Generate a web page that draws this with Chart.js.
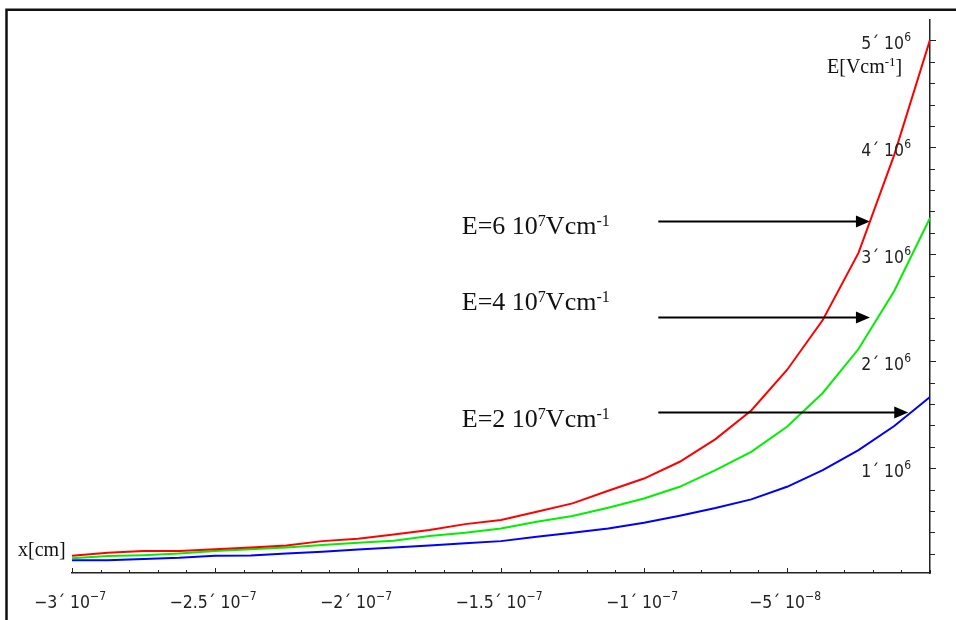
<!DOCTYPE html>
<html>
<head>
<meta charset="utf-8">
<script src="https://cdn.jsdelivr.net/npm/chart.js@4.4.1/dist/chart.umd.min.js"></script>
<style>
  html, body { margin: 0; padding: 0; background: #fff; }
  canvas { display: block; }
</style>
</head>
<body>
<canvas id="c" width="956" height="620"></canvas>
<script>
// Position x [cm]
const xValues = [
  -3.0e-7, -2.875e-7, -2.75e-7, -2.625e-7, -2.5e-7, -2.375e-7, -2.25e-7, -2.125e-7,
  -2.0e-7, -1.875e-7, -1.75e-7, -1.625e-7, -1.5e-7, -1.375e-7, -1.25e-7, -1.125e-7,
  -1.0e-7, -8.75e-8, -7.5e-8, -6.25e-8, -5.0e-8, -3.75e-8, -2.5e-8, -1.25e-8, 0
];
// Field E [V/cm] for the three applied fields
const fieldE6 = [
  1.81e5, 2.09e5, 2.25e5, 2.25e5, 2.43e5, 2.59e5, 2.78e5, 3.18e5, 3.41e5, 3.81e5,
  4.21e5, 4.77e5, 5.15e5, 5.92e5, 6.71e5, 7.89e5, 9.03e5, 1.060e6, 1.272e6, 1.539e6,
  1.918e6, 2.385e6, 3.012e6, 3.929e6, 5.005e6
];
const fieldE4 = [
  1.59e5, 1.78e5, 1.87e5, 2.03e5, 2.25e5, 2.43e5, 2.59e5, 2.81e5, 3.02e5, 3.21e5,
  3.65e5, 3.96e5, 4.37e5, 4.99e5, 5.52e5, 6.30e5, 7.17e5, 8.26e5, 9.82e5, 1.153e6,
  1.387e6, 1.703e6, 2.114e6, 2.657e6, 3.340e6
];
const fieldE2 = [
  1.40e5, 1.40e5, 1.52e5, 1.62e5, 1.81e5, 1.84e5, 2.03e5, 2.18e5, 2.39e5, 2.59e5,
  2.78e5, 2.97e5, 3.18e5, 3.58e5, 3.96e5, 4.37e5, 4.89e5, 5.55e5, 6.27e5, 7.08e5,
  8.26e5, 9.82e5, 1.169e6, 1.394e6, 1.665e6
];
const appliedFields = ['6', '4', '2'];

// Labelled ticks: mantissa text and power-of-ten exponent
const xMajorTicks = [-3e-7, -2.5e-7, -2e-7, -1.5e-7, -1e-7, -5e-8];
const xTickLabels = ['−3´ 10', '−2.5´ 10', '−2´ 10', '−1.5´ 10', '−1´ 10', '−5´ 10'];
const xTickExponents = ['−7', '−7', '−7', '−7', '−7', '−8'];
const yMajorTicks = [1e6, 2e6, 3e6, 4e6, 5e6];
const yTickLabels = ['1´ 10', '2´ 10', '3´ 10', '4´ 10', '5´ 10'];
const yTickExponents = ['6', '6', '6', '6', '6'];

const X_MINOR = 1e-8, Y_MINOR = 2e5;
const INK = '#222';
const SANS = '"DejaVu Sans Condensed", "Liberation Sans Narrow", "DejaVu Sans", sans-serif';
const SERIF = '"Liberation Serif", "Times New Roman", serif';

function majorIndex(list, v, tol) {
  return list.findIndex(m => Math.abs(m - v) < tol);
}
function series(values) {
  return xValues.map((x, i) => ({ x, y: values[i] }));
}

// Arrow annotations (data coordinates)
const arrowLayout = [
  { textX: -1.637e-7, textY: 3.187e6, fromX: -9.5e-8, toX: -2.1e-8,  y: 3.311e6 },
  { textX: -1.637e-7, textY: 2.477e6, fromX: -9.5e-8, toX: -2.1e-8,  y: 2.414e6 },
  { textX: -1.637e-7, textY: 1.383e6, fromX: -9.5e-8, toX: -0.76e-8, y: 1.523e6 }
];

// Rich text: list of [text, size, raise]
function richWidth(ctx, pieces, family) {
  let w = 0;
  for (const [t, size] of pieces) {
    ctx.font = size + 'px ' + family;
    w += ctx.measureText(t).width;
  }
  return w;
}
function drawRich(ctx, pieces, x, y, family) {
  let cx = x;
  ctx.textAlign = 'left';
  for (const [t, size, raise] of pieces) {
    ctx.font = size + 'px ' + family;
    ctx.fillText(t, cx, y - raise);
    cx += ctx.measureText(t).width;
  }
}

const framePlugin = {
  id: 'frame',
  beforeDraw(chart) {
    const ctx = chart.ctx;
    ctx.save();
    ctx.strokeStyle = '#111';
    ctx.lineWidth = 2.5;
    ctx.beginPath();
    ctx.moveTo(6.5, 640);
    ctx.lineTo(6.5, 9.8);
    ctx.lineTo(980, 9.8);
    ctx.stroke();
    ctx.restore();
  }
};

const axisDecorPlugin = {
  id: 'axisDecor',
  afterDraw(chart) {
    const { ctx, chartArea, scales: { x, y } } = chart;
    ctx.save();
    ctx.strokeStyle = INK;
    ctx.lineWidth = 1;
    ctx.beginPath();
    for (const t of x.ticks) {
      const px = Math.round(x.getPixelForValue(t.value)) + 0.5;
      const len = majorIndex(xMajorTicks, t.value, 1e-10) >= 0 ? 5 : 3;
      ctx.moveTo(px, chartArea.bottom);
      ctx.lineTo(px, chartArea.bottom - len);
    }
    for (const t of y.ticks) {
      const py = Math.round(y.getPixelForValue(t.value)) + 0.5;
      const len = majorIndex(yMajorTicks, t.value, 1) >= 0 ? 6 : 5;
      ctx.moveTo(chartArea.right, py);
      ctx.lineTo(chartArea.right + len, py);
    }
    ctx.stroke();

    // Tick labels with raised exponents
    ctx.fillStyle = INK;
    ctx.textBaseline = 'alphabetic';
    xMajorTicks.forEach((v, i) => {
      const pieces = [[xTickLabels[i], 17.5, 0], [xTickExponents[i], 12, 8]];
      const w = richWidth(ctx, pieces, SANS);
      drawRich(ctx, pieces, x.getPixelForValue(v) - w / 2 - 2, chartArea.bottom + 35, SANS);
    });
    yMajorTicks.forEach((v, i) => {
      const pieces = [[yTickLabels[i], 17.5, 0], [yTickExponents[i], 12, 8]];
      const w = richWidth(ctx, pieces, SANS);
      drawRich(ctx, pieces, chartArea.right - 19 - w, y.getPixelForValue(v) + 9, SANS);
    });

    // Axis titles
    ctx.fillStyle = '#111';
    drawRich(ctx, [['x[cm]', 20, 0]], chartArea.left - 54, chartArea.bottom - 17, SERIF);
    drawRich(ctx, [['E[Vcm', 20, 0], ['-1', 13, 7], [']', 20, 0]],
      chartArea.right - 103, chartArea.top + 53, SERIF);

    // Arrows with their field labels
    arrowLayout.forEach((a, i) => {
      ctx.fillStyle = '#111';
      drawRich(ctx, [['E=' + appliedFields[i] + ' 10', 26, 0], ['7', 16, 8], ['Vcm', 26, 0], ['-1', 16, 8]],
        x.getPixelForValue(a.textX), y.getPixelForValue(a.textY), SERIF);
      const x0 = x.getPixelForValue(a.fromX);
      const x1 = x.getPixelForValue(a.toX);
      const ay = Math.round(y.getPixelForValue(a.y)) + 0.5;
      ctx.strokeStyle = '#000';
      ctx.lineWidth = 2;
      ctx.beginPath();
      ctx.moveTo(x0, ay);
      ctx.lineTo(x1 - 10, ay);
      ctx.stroke();
      ctx.fillStyle = '#000';
      ctx.beginPath();
      ctx.moveTo(x1, ay);
      ctx.lineTo(x1 - 14, ay - 6);
      ctx.lineTo(x1 - 14, ay + 6);
      ctx.closePath();
      ctx.fill();
    });
    ctx.restore();
  }
};

new Chart(document.getElementById('c'), {
  type: 'line',
  data: {
    datasets: [
      { label: 'E=6 10⁷Vcm⁻¹', data: series(fieldE6), borderColor: '#ff0000' },
      { label: 'E=4 10⁷Vcm⁻¹', data: series(fieldE4), borderColor: '#00f000' },
      { label: 'E=2 10⁷Vcm⁻¹', data: series(fieldE2), borderColor: '#0000ff' }
    ]
  },
  options: {
    responsive: false,
    animation: false,
    layout: { padding: { left: 72, top: 20, right: 0, bottom: 0 } },
    elements: {
      line: { borderWidth: 2, tension: 0, fill: false },
      point: { radius: 0, hoverRadius: 0 }
    },
    plugins: { legend: { display: false }, tooltip: { enabled: false } },
    scales: {
      x: {
        type: 'linear',
        min: -3e-7,
        max: 0,
        afterBuildTicks(scale) {
          const ticks = [];
          for (let i = -30; i <= 0; i++) ticks.push({ value: i * X_MINOR });
          scale.ticks = ticks;
        },
        afterFit(scale) {
          scale.height = 47;
          scale.paddingLeft = 0; scale.paddingRight = 0;
        },
        grid: { display: false, drawTicks: false, tickLength: 0 },
        border: { display: true, color: INK, width: 1.5 },
        ticks: { autoSkip: false, maxRotation: 0, callback: () => '' }
      },
      y: {
        type: 'linear',
        position: 'right',
        min: 2e4,
        max: 5.19e6,
        afterBuildTicks(scale) {
          const ticks = [];
          for (let k = 1; k <= 25; k++) ticks.push({ value: k * Y_MINOR });
          scale.ticks = ticks;
        },
        afterFit(scale) {
          scale.width = 26;
          scale.paddingTop = 0; scale.paddingBottom = 0;
        },
        grid: { display: false, drawTicks: false, tickLength: 0 },
        border: { display: true, color: INK, width: 1.5 },
        ticks: { autoSkip: false, mirror: true, callback: () => '' }
      }
    }
  },
  plugins: [framePlugin, axisDecorPlugin]
});
</script>
</body>
</html>
